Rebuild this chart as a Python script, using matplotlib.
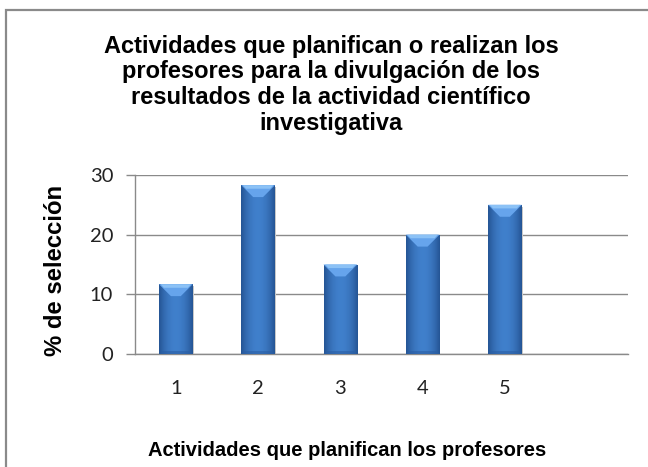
import matplotlib
matplotlib.use("Agg")
import matplotlib.pyplot as plt
import numpy as np
from matplotlib import font_manager
from matplotlib.patches import Rectangle, Polygon

# datos del gráfico
categorias = ["1", "2", "3", "4", "5", ""]
porcentajes = [11.7, 28.3, 15.0, 20.0, 25.0, None]
yticks = [0, 10, 20, 30]

titulo = ("Actividades que planifican o realizan los\n"
          "profesores para la divulgación de los\n"
          "resultados de la actividad científico\n"
          "investigativa")
etiqueta_x = "Actividades que planifican los profesores"
etiqueta_y = "% de selección"


def pick_font(names):
    for n in names:
        try:
            font_manager.findfont(n, fallback_to_default=False)
            return n
        except ValueError:
            pass
    return "DejaVu Sans"


narrow = pick_font(["Liberation Sans Narrow", "Liberation Sans"])
tick_font = pick_font(["Lato", "Open Sans"])

W, H = 648, 467
fig = plt.figure(figsize=(W / 100, H / 100), dpi=100)
fig.patch.set_facecolor("white")

# marco exterior del gráfico
fig.add_artist(Rectangle((6 / W, -0.1), 1.2, 1 - 10 / H + 0.1,
                         transform=fig.transFigure, fill=False,
                         edgecolor="#8a8a8a", linewidth=1.6))

ax = fig.add_axes([134.7 / W, 1 - 354 / H, (628.3 - 134.7) / W, (354 - 175) / H])

x = np.arange(len(categorias))
ancho = 0.41
vals = [v for v in porcentajes if v is not None]
xs = x[:len(vals)]

bars = ax.bar(xs, vals, width=ancho, color="#3a78c4", zorder=2,
              edgecolor="none")

# degradado horizontal de cada barra
grad = np.array([0.0, 0.35, 0.6, 0.75, 0.8, 0.75, 0.6, 0.35, 0.0])
grad = np.interp(np.linspace(0, 8, 64), np.arange(9), grad)
dark = np.array([0x25, 0x55, 0x95]) / 255
light = np.array([0x47, 0x8b, 0xda]) / 255
img = (dark[None, :] + (light - dark)[None, :] * grad[:, None])[None, :, :]

bev_y = 2.0    # alto del bisel superior, en unidades de datos
bev_x = 0.145  # entrada lateral del bisel
for b, v in zip(bars, vals):
    x0 = b.get_x()
    x1 = x0 + b.get_width()
    im = ax.imshow(img, extent=[x0, x1, 0, v], aspect="auto",
                   interpolation="bilinear", zorder=3)
    im.set_clip_path(b)
    # sombra suave
    ax.add_patch(Rectangle((x1, 0), 0.012, v - 0.3, color="#c8c8c8",
                           zorder=1.5, linewidth=0))
    # bisel superior más claro
    top = Polygon([[x0, v], [x1, v], [x1 - bev_x, v - bev_y],
                   [x0 + bev_x, v - bev_y]], closed=True,
                  facecolor="#66a4ec", edgecolor="none", zorder=4)
    ax.add_patch(top)
    ax.add_patch(Polygon([[x0 + 0.02, v], [x1 - 0.02, v],
                          [x1 - 0.06, v - 0.6], [x0 + 0.06, v - 0.6]],
                         closed=True, facecolor="#8cc2f6",
                         edgecolor="none", zorder=4.5))
    # bisel inferior algo más oscuro
    ax.add_patch(Polygon([[x0, 0], [x1, 0], [x1 - 0.04, 0.5],
                          [x0 + 0.04, 0.5]], closed=True,
                         facecolor="#2a5ea4", edgecolor="none", zorder=4,
                         alpha=0.6))

ax.set_xlim(-0.5, len(categorias) - 0.5)
ax.set_ylim(0, 30)
ax.set_yticks(yticks)
ax.set_xticks(x)
ax.set_xticklabels(categorias)

ax.yaxis.grid(True, color="#8a8a8a", linewidth=1.0, zorder=0)
ax.set_axisbelow(True)
for s in ["top", "right"]:
    ax.spines[s].set_visible(False)
ax.spines["left"].set_color("#8a8a8a")
ax.spines["bottom"].set_color("#8a8a8a")
ax.spines["left"].set_linewidth(1.0)
ax.spines["bottom"].set_linewidth(1.0)

ax.tick_params(axis="y", length=6.5, color="#8a8a8a", width=1.0, pad=9,
               labelsize=14.5, labelcolor="#222222")
ax.tick_params(axis="x", length=0, pad=19, labelsize=14.5,
               labelcolor="#222222")
for lab in ax.get_xticklabels() + ax.get_yticklabels():
    lab.set_fontfamily(tick_font)

fig.text(331 / W, 1 - 34.5 / H, titulo, ha="center", va="top",
         fontsize=17, fontweight="bold", family=narrow,
         linespacing=1.16)
fig.text(347 / W, 1 - 451 / H, etiqueta_x, ha="center", va="center",
         fontsize=14.5, fontweight="bold", family=narrow)
fig.text(56 / W, 1 - 270 / H, etiqueta_y, ha="center", va="center",
         rotation=90, fontsize=17.2, fontweight="bold", family=narrow)

fig.savefig("out.png", dpi=100, facecolor="white")
